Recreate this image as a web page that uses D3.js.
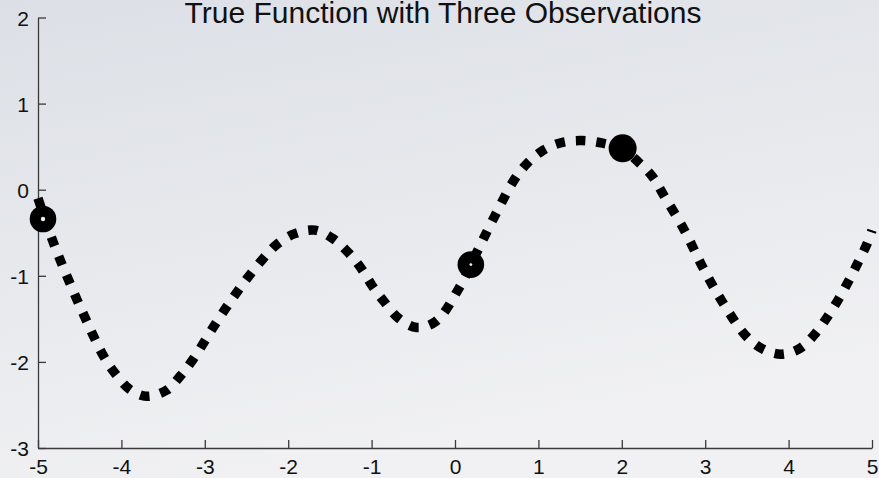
<!DOCTYPE html>
<html>
<head>
<meta charset="utf-8">
<script src="https://cdn.jsdelivr.net/npm/d3@7"></script>
<style>
  html, body { margin: 0; padding: 0; overflow: hidden; }
  svg { display: block; }
  text { font-family: "Liberation Sans", Arial, Helvetica, sans-serif; fill: #111; }
</style>
</head>
<body>
<svg id="chart" width="879" height="478"></svg>
<script>
// true function
var fx = [-5.00, -4.81, -4.62, -4.42, -4.21, -4.07, -3.90, -3.70, -3.46, -3.29, -3.14, -2.88, -2.60, -2.30, -2.13,
  -1.92, -1.68, -1.46, -1.28, -1.12, -0.99, -0.85, -0.68, -0.46, -0.23, 0.05, 0.27, 0.49, 0.72, 0.87,
  1.06, 1.29, 1.53, 1.77, 2.01, 2.20, 2.37, 2.50, 2.75, 2.97, 3.21, 3.49, 3.69, 3.91, 4.14,
  4.33, 4.47, 4.60, 4.72, 4.83, 4.94, 5.00];
var fy = [-0.10, -0.63, -1.08, -1.52, -1.94, -2.14, -2.32, -2.40, -2.33, -2.16, -1.97, -1.57, -1.17, -0.80, -0.63,
  -0.51, -0.47, -0.57, -0.73, -0.92, -1.12, -1.30, -1.49, -1.60, -1.53, -1.14, -0.71, -0.28, 0.13, 0.31,
  0.46, 0.55, 0.57, 0.54, 0.47, 0.32, 0.15, -0.06, -0.47, -0.90, -1.31, -1.70, -1.85, -1.91, -1.84,
  -1.66, -1.47, -1.27, -1.06, -0.85, -0.63, -0.47];

// the three observations
var obsX = [-4.94, 0.19, 2.01];
var obsY = [-0.34, -0.87, 0.48];

var xTicks = [-5, -4, -3, -2, -1, 0, 1, 2, 3, 4, 5];
var yTicks = [-3, -2, -1, 0, 1, 2];

var titleText = "True Function with Three Observations";

var W = 879, H = 478;
var margin = {left: 38, right: 7, top: 17.5, bottom: 30};

var svg = d3.select("#chart");

// grey backdrop
var defs = svg.append("defs");
var grad = defs.append("linearGradient").attr("id", "bg")
  .attr("x1", "0%").attr("y1", "0%").attr("x2", "35%").attr("y2", "100%");
grad.append("stop").attr("offset", "0%").attr("stop-color", "#dce0e6");
grad.append("stop").attr("offset", "100%").attr("stop-color", "#f1f1f3");
svg.append("rect").attr("width", W).attr("height", H).attr("fill", "url(#bg)");

var x = d3.scaleLinear().domain([-5, 5]).range([margin.left, W - margin.right]);
var y = d3.scaleLinear().domain([-3, 2]).range([H - margin.bottom, margin.top]);

// plain hyphen minus, like the original
var fmt = function(d){ return String(d); };

// axes, ticks pointing inside
var xAxis = svg.append("g")
  .attr("transform", "translate(0," + y(-3) + ")")
  .call(d3.axisBottom(x).tickValues(xTicks).tickSize(-8).tickSizeOuter(0).tickPadding(12)
    .tickFormat(fmt));
var yAxis = svg.append("g")
  .attr("transform", "translate(" + x(-5) + ",0)")
  .call(d3.axisLeft(y).tickValues(yTicks).tickSize(-8).tickSizeOuter(0).tickPadding(9)
    .tickFormat(fmt));

[xAxis, yAxis].forEach(function(g){
  g.select(".domain").attr("stroke", "#3a3a3a").attr("stroke-width", 1.3);
  g.selectAll(".tick line").attr("stroke", "#3a3a3a").attr("stroke-width", 1.3);
  g.selectAll(".tick text").attr("font-size", 21).attr("fill", "#111")
    .style("font-family", "'Liberation Sans', Arial, sans-serif");
});
xAxis.selectAll(".tick text").attr("dy", "0.8em").attr("y", 9);
yAxis.selectAll(".tick text").attr("dy", "0.36em");

// the function, dotted
var pts = fx.map(function(d, i){ return [d, fy[i]]; });
var line = d3.line()
  .x(function(d){ return x(d[0]); })
  .y(function(d){ return y(d[1]); })
  .curve(d3.curveCatmullRom.alpha(0.5));

svg.append("path").datum(pts).attr("d", line)
  .attr("fill", "none")
  .attr("stroke", "#000")
  .attr("stroke-width", 9.5)
  .attr("stroke-dasharray", "9.5,11");

// observations
var obs = obsX.map(function(d, i){ return {x: d, y: obsY[i], hole: i == 0 ? 2.2 : (i == 1 ? 1.4 : 0)}; });
svg.selectAll("circle.obs").data(obs).enter().append("circle")
  .attr("class", "obs")
  .attr("cx", function(d){ return x(d.x); })
  .attr("cy", function(d){ return y(d.y); })
  .attr("r", function(d, i){ return i == 2 ? 14 : 13.3; })
  .attr("fill", "#000");
svg.selectAll("circle.hole").data(obs.filter(function(d){ return d.hole > 0; })).enter().append("circle")
  .attr("class", "hole")
  .attr("cx", function(d){ return x(d.x); })
  .attr("cy", function(d){ return y(d.y); })
  .attr("r", function(d){ return d.hole; })
  .attr("fill", "#f0f0f0");

svg.append("text")
  .attr("x", 443).attr("y", 23)
  .attr("text-anchor", "middle")
  .attr("font-size", 30)
  .text(titleText);
</script>
</body>
</html>
